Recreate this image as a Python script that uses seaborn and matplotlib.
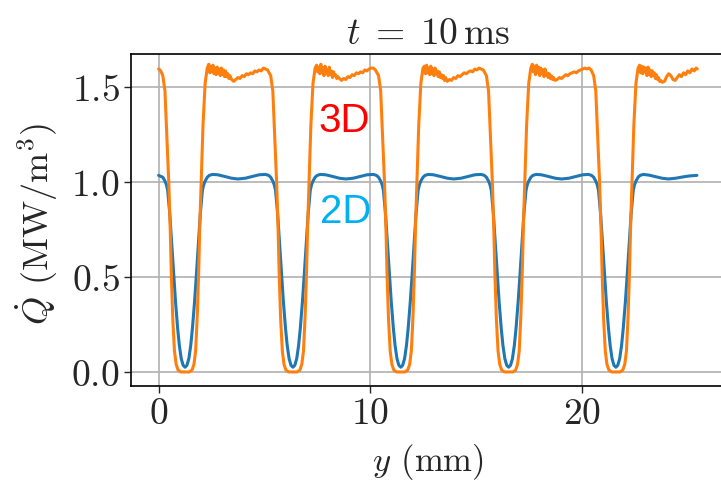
import numpy as np
import matplotlib
matplotlib.use('Agg')
import matplotlib.pyplot as plt
import seaborn as sns

# ---- 3D curve (orange) ----
dip_3d = [1.56, 1.48, 1.22, 1.00, 0.75, 0.52, 0.28, 0.11, 0.04, 0.01, 0.00, 0.00,
          0.00, 0.01, 0.04, 0.11, 0.30, 0.55, 0.78, 1.02, 1.30, 1.52, 1.60]

x3_start = [0.00, 0.07, 0.14]
q3_start = [1.595, 1.59, 1.575]
x3_dip1 = [0.20, 0.30, 0.40, 0.48, 0.55, 0.60, 0.67, 0.75, 0.83, 0.92, 1.05, 1.25,
           1.45, 1.58, 1.67, 1.75, 1.83, 1.90, 1.95, 2.02, 2.10, 2.20, 2.30]
x3_top1 = [2.37, 2.42, 2.47, 2.52, 2.57, 2.62, 2.67, 2.72, 2.77, 2.82, 2.87, 2.92, 2.97,
           3.02, 3.07, 3.12, 3.17, 3.22, 3.27, 3.32, 3.37, 3.45, 3.55, 3.65, 3.75, 3.85,
           3.95, 4.05, 4.15, 4.25, 4.35, 4.45, 4.55, 4.65, 4.75, 4.85, 4.95, 5.05, 5.15]
q3_top1 = [1.62, 1.575, 1.61, 1.58, 1.615, 1.57, 1.60, 1.565, 1.605, 1.57, 1.595, 1.56,
           1.60, 1.565, 1.59, 1.555, 1.585, 1.555, 1.57, 1.545, 1.56, 1.54, 1.53, 1.54,
           1.55, 1.545, 1.56, 1.555, 1.57, 1.565, 1.575, 1.57, 1.585, 1.58, 1.59, 1.585,
           1.60, 1.595, 1.59]
x3_dip2 = [5.30, 5.40, 5.50, 5.58, 5.65, 5.70, 5.77, 5.85, 5.93, 6.02, 6.15, 6.35,
           6.55, 6.68, 6.77, 6.85, 6.93, 7.00, 7.05, 7.12, 7.20, 7.30, 7.40]
x3_top2 = [7.47, 7.52, 7.57, 7.62, 7.67, 7.72, 7.77, 7.82, 7.87, 7.92, 7.97, 8.02, 8.07,
           8.12, 8.17, 8.22, 8.27, 8.32, 8.37, 8.42, 8.47, 8.55, 8.65, 8.75, 8.85, 8.95,
           9.05, 9.15, 9.25, 9.35, 9.45, 9.55, 9.65, 9.75, 9.85, 9.95, 10.05, 10.15, 10.25]
q3_top2 = [1.615, 1.58, 1.605, 1.57, 1.62, 1.575, 1.60, 1.56, 1.61, 1.575, 1.59, 1.56,
           1.605, 1.565, 1.585, 1.55, 1.58, 1.56, 1.565, 1.545, 1.555, 1.545, 1.535,
           1.545, 1.54, 1.555, 1.55, 1.565, 1.56, 1.575, 1.57, 1.58, 1.575, 1.59, 1.585,
           1.595, 1.60, 1.60, 1.59]
x3_dip3 = [10.40, 10.50, 10.60, 10.68, 10.75, 10.80, 10.87, 10.95, 11.03, 11.12, 11.25,
           11.45, 11.65, 11.78, 11.87, 11.95, 12.03, 12.10, 12.15, 12.22, 12.30, 12.40, 12.50]
x3_top3 = [12.57, 12.62, 12.67, 12.72, 12.77, 12.82, 12.87, 12.92, 12.97, 13.02, 13.07,
           13.12, 13.17, 13.22, 13.27, 13.32, 13.37, 13.42, 13.47, 13.52, 13.57, 13.65,
           13.75, 13.85, 13.95, 14.05, 14.15, 14.25, 14.35, 14.45, 14.55, 14.65, 14.75,
           14.85, 14.95, 15.05, 15.15, 15.25, 15.35]
q3_top3 = [1.61, 1.57, 1.615, 1.575, 1.60, 1.565, 1.61, 1.57, 1.595, 1.56, 1.60, 1.57,
           1.585, 1.555, 1.58, 1.55, 1.565, 1.545, 1.56, 1.535, 1.55, 1.53, 1.54, 1.535,
           1.55, 1.545, 1.56, 1.555, 1.565, 1.575, 1.57, 1.58, 1.585, 1.58, 1.595, 1.59,
           1.60, 1.595, 1.59]
x3_dip4 = [15.50, 15.60, 15.70, 15.78, 15.85, 15.90, 15.97, 16.05, 16.13, 16.22, 16.35,
           16.55, 16.75, 16.88, 16.97, 17.05, 17.13, 17.20, 17.25, 17.32, 17.40, 17.50, 17.60]
x3_top4 = [17.67, 17.72, 17.77, 17.82, 17.87, 17.92, 17.97, 18.02, 18.07, 18.12, 18.17,
           18.22, 18.27, 18.32, 18.37, 18.42, 18.47, 18.52, 18.57, 18.62, 18.67, 18.75,
           18.85, 18.95, 19.05, 19.15, 19.25, 19.35, 19.45, 19.55, 19.65, 19.75, 19.85,
           19.95, 20.05, 20.15, 20.25, 20.35, 20.45]
q3_top4 = [1.62, 1.58, 1.61, 1.565, 1.615, 1.575, 1.605, 1.56, 1.60, 1.57, 1.59, 1.555,
           1.595, 1.56, 1.575, 1.55, 1.57, 1.545, 1.56, 1.54, 1.55, 1.535, 1.54, 1.55,
           1.545, 1.555, 1.565, 1.56, 1.57, 1.575, 1.58, 1.575, 1.585, 1.59, 1.595, 1.60,
           1.595, 1.60, 1.59]
x3_dip5 = [20.57, 20.67, 20.77, 20.85, 20.92, 20.97, 21.04, 21.12, 21.20, 21.29, 21.42,
           21.62, 21.82, 21.95, 22.04, 22.12, 22.20, 22.27, 22.32, 22.39, 22.47, 22.57, 22.67]
x3_end = [22.74, 22.79, 22.84, 22.89, 22.94, 22.99, 23.04, 23.09, 23.14, 23.19, 23.24,
          23.29, 23.34, 23.39, 23.44, 23.49, 23.54, 23.59, 23.64, 23.69, 23.74, 23.82,
          23.92, 24.02, 24.12, 24.22, 24.32, 24.42, 24.52, 24.62, 24.72, 24.82, 24.92,
          25.02, 25.12, 25.22, 25.32, 25.42, 25.47]
q3_end = [1.615, 1.575, 1.61, 1.57, 1.605, 1.58, 1.60, 1.56, 1.605, 1.565, 1.59, 1.555,
          1.585, 1.56, 1.575, 1.545, 1.565, 1.54, 1.55, 1.53, 1.535, 1.525, 1.53, 1.555,
          1.57, 1.56, 1.54, 1.535, 1.55, 1.565, 1.555, 1.575, 1.565, 1.585, 1.575, 1.595,
          1.585, 1.60, 1.595]

# ---- 2D curve (blue) ----
dip_2d = [1.025, 1.005, 0.985, 0.955, 0.83, 0.66, 0.50, 0.37, 0.23, 0.14, 0.07, 0.035,
          0.025, 0.035, 0.07, 0.14, 0.23, 0.37, 0.50, 0.66, 0.83, 0.955, 0.985, 1.005, 1.025]
top_2d = [1.035, 1.04, 1.038, 1.03, 1.02, 1.016, 1.02, 1.03, 1.038, 1.04, 1.035]

x2_start = [0.00, 0.10]
q2_start = [1.035, 1.03]
x2_dip1 = [0.20, 0.30, 0.37, 0.43, 0.53, 0.63, 0.72, 0.80, 0.90, 0.98, 1.07, 1.16, 1.25,
           1.34, 1.43, 1.52, 1.60, 1.70, 1.78, 1.87, 1.97, 2.07, 2.13, 2.20, 2.30]
x2_top1 = [2.40, 2.55, 2.80, 3.10, 3.45, 3.75, 4.10, 4.45, 4.75, 5.05, 5.20]
x2_dip2 = [5.30, 5.40, 5.47, 5.53, 5.63, 5.73, 5.82, 5.90, 6.00, 6.08, 6.17, 6.26, 6.35,
           6.44, 6.53, 6.62, 6.70, 6.80, 6.88, 6.97, 7.07, 7.17, 7.23, 7.30, 7.40]
x2_top2 = [7.50, 7.65, 7.90, 8.20, 8.55, 8.85, 9.20, 9.55, 9.85, 10.15, 10.30]
x2_dip3 = [10.40, 10.50, 10.57, 10.63, 10.73, 10.83, 10.92, 11.00, 11.10, 11.18, 11.27,
           11.36, 11.45, 11.54, 11.63, 11.72, 11.80, 11.90, 11.98, 12.07, 12.17, 12.27,
           12.33, 12.40, 12.50]
x2_top3 = [12.60, 12.75, 13.00, 13.30, 13.65, 13.95, 14.30, 14.65, 14.95, 15.25, 15.40]
x2_dip4 = [15.50, 15.60, 15.67, 15.73, 15.83, 15.93, 16.02, 16.10, 16.20, 16.28, 16.37,
           16.46, 16.55, 16.64, 16.73, 16.82, 16.90, 17.00, 17.08, 17.17, 17.27, 17.37,
           17.43, 17.50, 17.60]
x2_top4 = [17.70, 17.85, 18.10, 18.40, 18.75, 19.05, 19.40, 19.75, 20.05, 20.32, 20.47]
x2_dip5 = [20.57, 20.67, 20.74, 20.80, 20.90, 21.00, 21.09, 21.17, 21.27, 21.35, 21.44,
           21.53, 21.62, 21.71, 21.80, 21.89, 21.97, 22.07, 22.15, 22.24, 22.34, 22.44,
           22.50, 22.57, 22.67]
x2_end = [22.77, 22.92, 23.20, 23.50, 23.80, 24.10, 24.45, 24.80, 25.10, 25.45]
q2_end = [1.035, 1.04, 1.036, 1.028, 1.02, 1.016, 1.02, 1.027, 1.032, 1.035]

x_3d = (x3_start + x3_dip1 + x3_top1 + x3_dip2 + x3_top2 + x3_dip3 + x3_top3
        + x3_dip4 + x3_top4 + x3_dip5 + x3_end)
q_3d = (q3_start + dip_3d + q3_top1 + dip_3d + q3_top2 + dip_3d + q3_top3
        + dip_3d + q3_top4 + dip_3d + q3_end)
x_2d = (x2_start + x2_dip1 + x2_top1 + x2_dip2 + x2_top2 + x2_dip3 + x2_top3
        + x2_dip4 + x2_top4 + x2_dip5 + x2_end)
q_2d = (q2_start + dip_2d + top_2d + dip_2d + top_2d + dip_2d + top_2d
        + dip_2d + top_2d + dip_2d + q2_end)

# ---- style ----
sns.set_style('ticks')
plt.rcParams['font.family'] = 'cmr10'
plt.rcParams['mathtext.fontset'] = 'cm'
plt.rcParams['axes.formatter.use_mathtext'] = True

fig = plt.figure(figsize=(7.21, 4.85), dpi=100)
ax = fig.add_axes([131 / 721, 98 / 485, 594 / 721, 332 / 485])

sns.lineplot(x=np.array(x_2d), y=np.array(q_2d), color='#1f77b4', lw=2.2,
             sort=False, estimator=None, ax=ax)
sns.lineplot(x=np.array(x_3d), y=np.array(q_3d), color='#ff7f0e', lw=2.2,
             sort=False, estimator=None, ax=ax)

ax.set_xlim(-1.305, 26.78)
ax.set_ylim(-0.074, 1.674)
ax.set_xticks([0, 10, 20])
ax.set_yticks([0.0, 0.5, 1.0, 1.5])
ax.grid(True, color='#b0b0b0', lw=1.2)
for s in ax.spines.values():
    s.set_color('black')
    s.set_linewidth(1.2)
ax.spines['right'].set_visible(False)
ax.tick_params(direction='out', length=5, width=1, labelsize=27, pad=3)

ax.set_title(r'$t\;=\;10\,\mathrm{ms}$', fontsize=27, pad=8, x=0.5)
ax.set_ylabel(r'$\dot{Q}$ (MW/m$^3$)', fontsize=26)
ax.set_xlabel(r'$y$ (mm)', fontsize=25)
ax.yaxis.set_label_coords(-0.12, 0.49)
ax.xaxis.set_label_coords(0.5, -0.165)

ax.text(8.77, 1.268, '3D', color='#ff0000', fontsize=29, family='Liberation Sans',
        ha='center', va='baseline')
ax.text(8.86, 0.789, '2D', color='#00b0f0', fontsize=29, family='Liberation Sans',
        ha='center', va='baseline')

fig.savefig('out.png', dpi=100)
